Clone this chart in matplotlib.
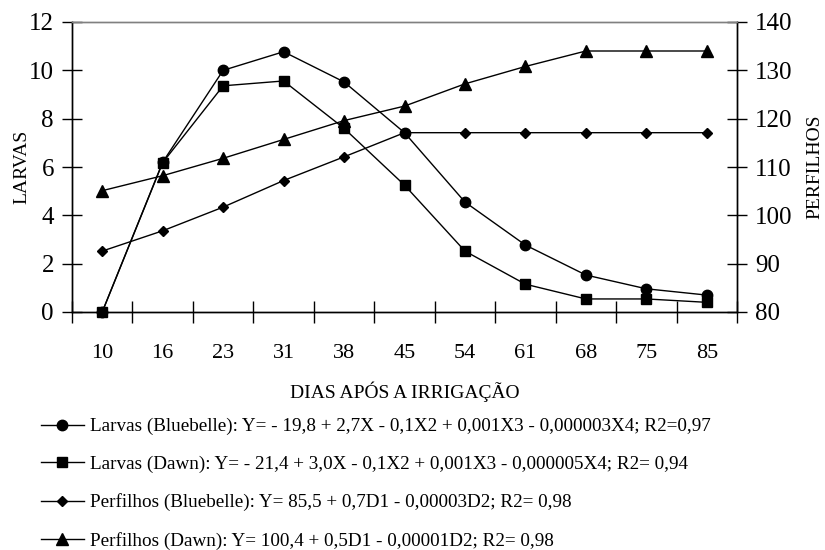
import numpy as np
import matplotlib
matplotlib.use("Agg")
import matplotlib.pyplot as plt
from matplotlib.ticker import FixedLocator, NullFormatter

plt.rcParams["font.family"] = ["Liberation Serif", "DejaVu Serif"]

# days after irrigation (categorical x axis)
dias = ["10", "16", "23", "31", "38", "45", "54", "61", "68", "75", "85"]

# left axis: larvae counts
larvas_bluebelle = [0.0, 6.2, 10.0, 10.77, 9.52, 7.42, 4.55, 2.77, 1.53, 0.96, 0.7]
larvas_dawn = [0.0, 6.18, 9.36, 9.56, 7.6, 5.25, 2.52, 1.15, 0.54, 0.54, 0.4]

# right axis: tillers
perfilhos_bluebelle = [92.6, 96.8, 101.7, 107.2, 112.1, 117.1, 117.1, 117.1, 117.1, 117.1, 117.1]
perfilhos_dawn = [105.1, 108.2, 111.8, 115.7, 119.6, 122.6, 127.2, 130.8, 134.0, 134.0, 134.0]

labels = [
    "Larvas (Bluebelle): Y= - 19,8 + 2,7X - 0,1X2 + 0,001X3 - 0,000003X4; R2=0,97",
    "Larvas (Dawn): Y= - 21,4 + 3,0X - 0,1X2 + 0,001X3 - 0,000005X4; R2= 0,94",
    "Perfilhos (Bluebelle): Y= 85,5 + 0,7D1 - 0,00003D2; R2= 0,98",
    "Perfilhos (Dawn): Y= 100,4 + 0,5D1 - 0,00001D2; R2= 0,98",
]

x = np.arange(len(dias))
fig = plt.figure(figsize=(8.25, 5.5), dpi=100)
ax = fig.add_axes([72 / 825, 1 - 312 / 550, (737 - 72) / 825, (312 - 22) / 550])
ax2 = ax.twinx()

kw = dict(color="black", lw=1.0, clip_on=False)
h1, = ax.plot(x, larvas_bluebelle, marker="o", ms=7.5, zorder=5, **kw)
h2, = ax.plot(x, larvas_dawn, marker="s", ms=7.5, zorder=6, **kw)
h3, = ax2.plot(x, perfilhos_bluebelle, marker="D", ms=5.5, **kw)
h4, = ax2.plot(x, perfilhos_dawn, marker="^", ms=8, **kw)

ax.set_xlim(-0.5, len(dias) - 0.5)
ax.set_ylim(0, 12)
ax.set_yticks(np.arange(0, 13, 2))
ax2.set_ylim(80, 140)
ax2.set_yticks(np.arange(80, 141, 10))

# category labels at centres, tick marks at the boundaries
ax.set_xticks(x)
ax.set_xticklabels(dias, fontsize=16)
ax.tick_params(axis="x", which="major", length=0, pad=23)
ax.xaxis.set_minor_locator(FixedLocator(np.arange(-0.5, len(dias), 1.0)))
ax.xaxis.set_minor_formatter(NullFormatter())
ax.tick_params(axis="x", which="minor", direction="inout", length=16, width=1)

ax.tick_params(axis="y", direction="inout", length=14, width=1, labelsize=18, pad=6)
ax2.tick_params(axis="y", direction="inout", length=14, width=1, labelsize=18, pad=6)

ax.set_ylabel("LARVAS", fontsize=14, labelpad=-1)
ax2.set_ylabel("PERFILHOS", fontsize=14, labelpad=10)
ax.set_xlabel("DIAS APÓS A IRRIGAÇÃO", fontsize=14, labelpad=13)

for a in (ax, ax2):
    a.spines["top"].set_color("#808080")
    a.spines["top"].set_linewidth(1.0)
    for s in ("left", "right", "bottom"):
        a.spines[s].set_linewidth(1.0)

fig.legend([h1, h2, h3, h4], labels, loc="upper left", bbox_to_anchor=(0.04, 0.254),
           frameon=False, fontsize=13.8, handlelength=2.25, handletextpad=0.3,
           labelspacing=1.06, borderaxespad=0)

fig.savefig("out.png", dpi=100)
